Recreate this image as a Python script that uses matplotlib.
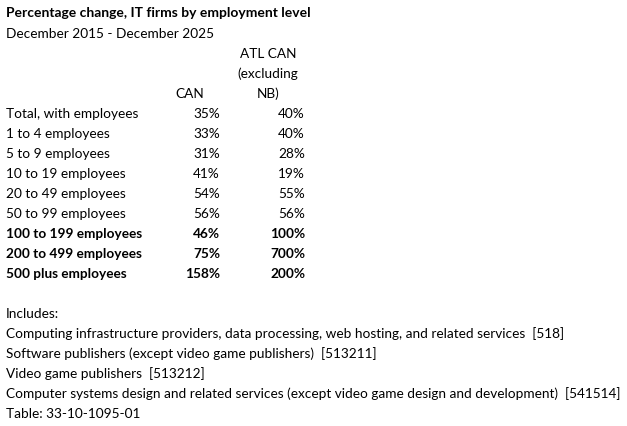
import matplotlib.pyplot as plt

title = "Percentage change, IT firms by employment level"
subtitle = "December 2015 - December 2025"
col_headers = ["CAN", "ATL CAN\n(excluding\nNB)"]
categories = ["Total, with employees", "1 to 4 employees", "5 to 9 employees",
              "10 to 19 employees", "20 to 49 employees", "50 to 99 employees",
              "100 to 199 employees", "200 to 499 employees", "500 plus employees"]
can_pct = [35, 33, 31, 41, 54, 56, 46, 75, 158]
atl_pct = [40, 40, 28, 19, 55, 56, 100, 700, 200]
bold_rows = [6, 7, 8]
notes = ["Includes:",
         "Computing infrastructure providers, data processing, web hosting, and related services  [518]",
         "Software publishers (except video game publishers)  [513211]",
         "Video game publishers  [513212]",
         "Computer systems design and related services (except video game design and development)  [541514]",
         "Table: 33-10-1095-01"]

W, H = 627, 426
fig = plt.figure(figsize=(W / 100, H / 100), dpi=100)
plt.rcParams['font.family'] = ['Lato', 'DejaVu Sans']
fs = 9.8


def put(x, y, s, **kw):
    # pixel coords from top-left
    fig.text(x / W, 1 - y / H, s, va='center', **{'fontsize': fs, **kw})


put(6, 13, title, weight='bold', fontsize=10)
put(6, 34, subtitle)
for i, line in enumerate(col_headers[1].split("\n")):
    put(268, 54 + 20 * i, line, ha='center')
put(190, 94, col_headers[0], ha='center')

row_y = 114
for i, cat in enumerate(categories):
    w = 'bold' if i in bold_rows else 'normal'
    y = row_y + 20 * i
    put(6, y, cat, weight=w)
    put(220, y, f"{can_pct[i]}%", ha='right', weight=w)
    put(305, y, f"{atl_pct[i]}%", ha='right', weight=w)

for i, line in enumerate(notes):
    put(6, 314 + 20 * i, line)

fig.savefig("out.png", dpi=100)
